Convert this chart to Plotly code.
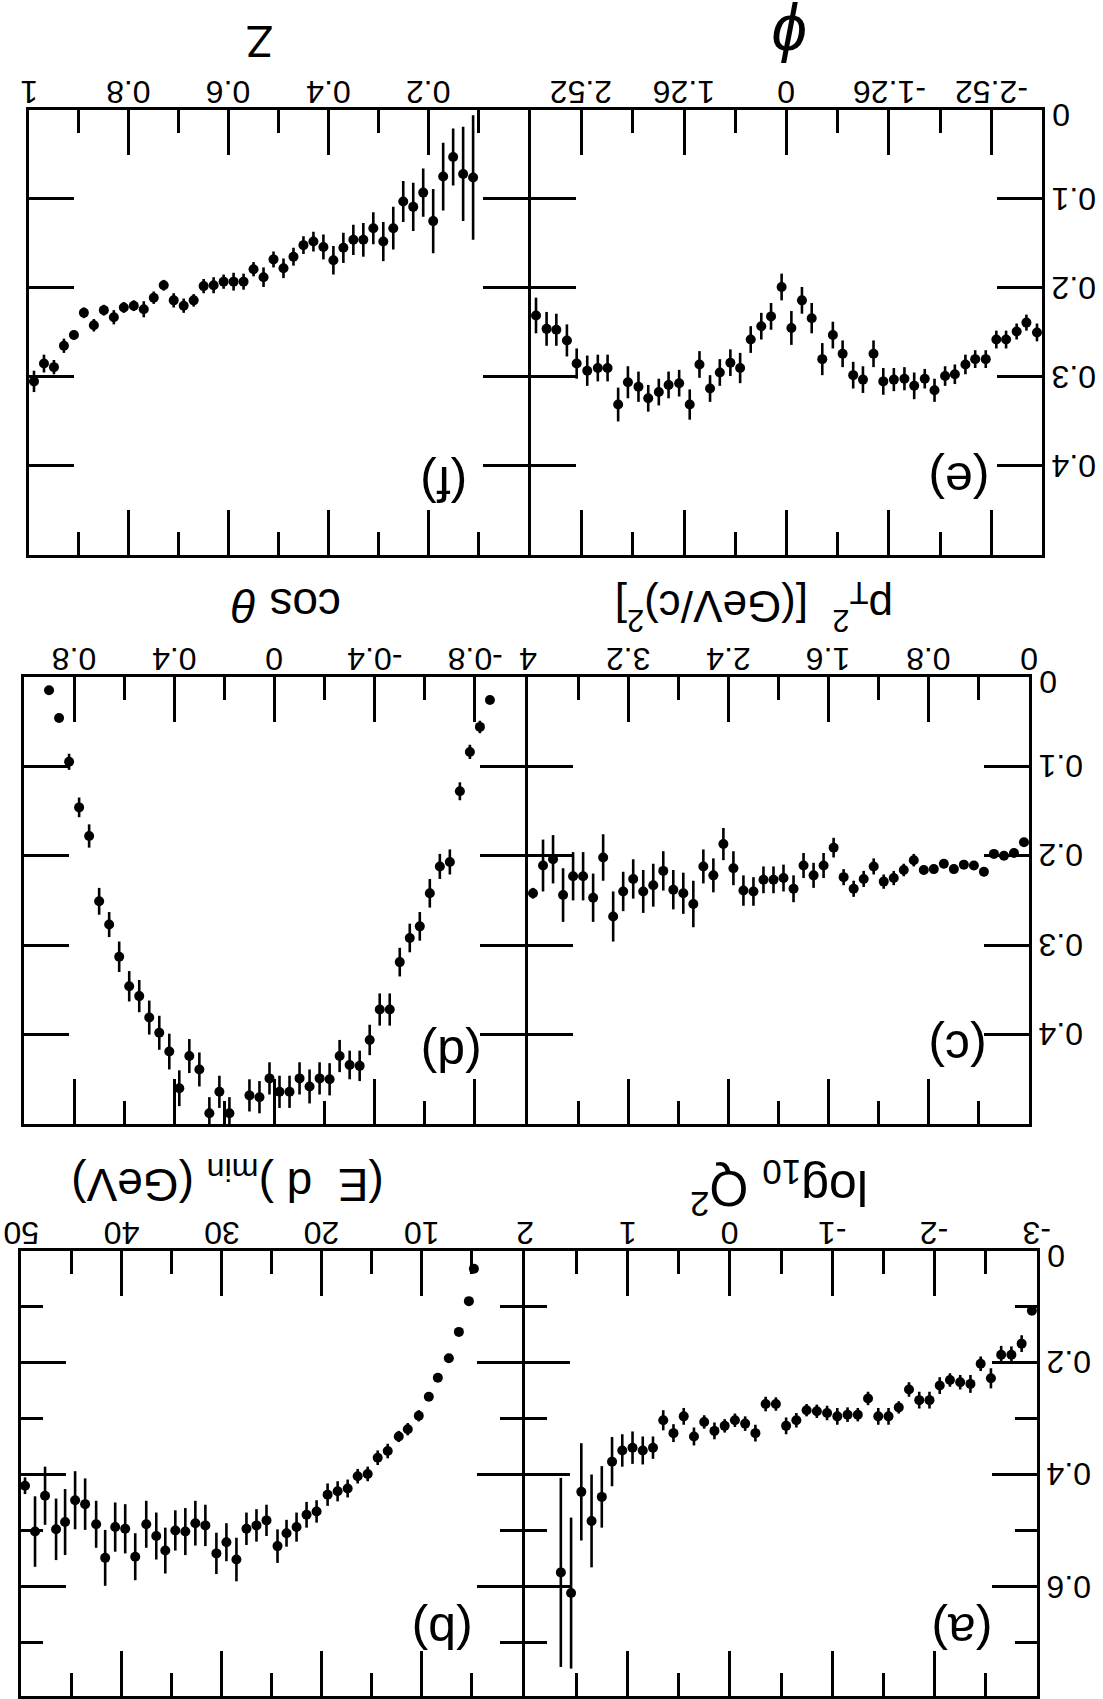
import math
import plotly.graph_objects as go

W, H = 1103, 1699

# ---------------- data ----------------
# (f) versus z
z_vals = [0.11, 0.13, 0.15, 0.17, 0.19, 0.21, 0.23, 0.25, 0.27, 0.29, 0.31, 0.33, 0.35, 0.37, 0.39,
          0.41, 0.43, 0.45, 0.47, 0.49, 0.51, 0.53, 0.55, 0.57, 0.59, 0.61, 0.63, 0.65, 0.67, 0.69,
          0.71, 0.73, 0.75, 0.77, 0.79, 0.81, 0.83, 0.85, 0.87, 0.89, 0.91, 0.93, 0.95, 0.97, 0.99]
z_y = [0.076, 0.072, 0.053, 0.075, 0.125, 0.093, 0.109, 0.103, 0.133, 0.148, 0.133, 0.146, 0.146, 0.155, 0.169,
       0.154, 0.148, 0.152, 0.165, 0.178, 0.168, 0.188, 0.179, 0.193, 0.193, 0.193, 0.197, 0.198, 0.214, 0.220,
       0.214, 0.197, 0.211, 0.224, 0.220, 0.222, 0.233, 0.225, 0.242, 0.228, 0.253, 0.265, 0.289, 0.285, 0.305]
z_err = [0.070, 0.053, 0.032, 0.038, 0.036, 0.027, 0.027, 0.023, 0.024, 0.022, 0.018, 0.019, 0.017, 0.017, 0.016,
         0.014, 0.011, 0.010, 0.010, 0.011, 0.009, 0.011, 0.008, 0.009, 0.010, 0.008, 0.009, 0.008, 0.007, 0.008,
         0.008, 0.006, 0.007, 0.009, 0.006, 0.006, 0.008, 0.006, 0.007, 0.006, 0.005, 0.008, 0.008, 0.010, 0.012]
z_tickvals = [1, 0.8, 0.6, 0.4, 0.2]
z_ticktext = ["1", "0.8", "0.6", "0.4", "0.2"]

# (e) versus azimuthal angle phi
phi_vals = [3.08, 2.95, 2.83, 2.70, 2.58, 2.45, 2.32, 2.20, 2.07, 1.95, 1.82, 1.70, 1.57, 1.45, 1.32,
            1.19, 1.07, 0.94, 0.82, 0.69, 0.57, 0.44, 0.31, 0.19, 0.06, -0.06, -0.19, -0.31, -0.44, -0.57,
            -0.69, -0.82, -0.94, -1.07, -1.19, -1.32, -1.45, -1.57, -1.70, -1.82, -1.95, -2.07, -2.20, -2.32,
            -2.45, -2.58, -2.70, -2.83, -2.95, -3.08]
phi_y = [0.231, 0.246, 0.247, 0.259, 0.285, 0.293, 0.290, 0.290, 0.331, 0.306, 0.311, 0.324, 0.317, 0.309, 0.307,
         0.331, 0.286, 0.313, 0.295, 0.284, 0.290, 0.258, 0.243, 0.232, 0.199, 0.245, 0.214, 0.234, 0.280, 0.253,
         0.274, 0.298, 0.303, 0.274, 0.305, 0.303, 0.302, 0.310, 0.302, 0.315, 0.299, 0.297, 0.286, 0.280,
         0.280, 0.258, 0.258, 0.249, 0.239, 0.250]
phi_err = [0.020, 0.019, 0.018, 0.018, 0.017, 0.017, 0.015, 0.015, 0.019, 0.018, 0.017, 0.015, 0.015, 0.015, 0.015,
           0.017, 0.015, 0.015, 0.015, 0.015, 0.017, 0.015, 0.015, 0.015, 0.015, 0.019, 0.015, 0.017, 0.018, 0.015,
           0.015, 0.015, 0.015, 0.015, 0.015, 0.013, 0.013, 0.015, 0.011, 0.013, 0.011, 0.011, 0.011, 0.010,
           0.010, 0.010, 0.010, 0.009, 0.009, 0.010]
phi_tickvals = [2.52, 1.26, 0, -1.26, -2.52]
phi_ticktext = ["2.52", "1.26", "0", "-1.26", "-2.52"]

# (d) versus cos(theta)
cos_vals = [0.90, 0.86, 0.82, 0.78, 0.74, 0.70, 0.66, 0.62, 0.58, 0.54, 0.50, 0.46, 0.42, 0.38, 0.34,
            0.30, 0.26, 0.22, 0.18, 0.10, 0.06, 0.02, -0.02, -0.06, -0.10, -0.14, -0.18, -0.22, -0.26, -0.30,
            -0.34, -0.38, -0.42, -0.46, -0.50, -0.54, -0.58, -0.62, -0.66, -0.70, -0.74, -0.78, -0.82, -0.86]
cos_y = [0.015, 0.046, 0.095, 0.146, 0.178, 0.251, 0.277, 0.313, 0.346, 0.357, 0.381, 0.398, 0.419, 0.460, 0.424,
         0.439, 0.488, 0.464, 0.488, 0.468, 0.470, 0.449, 0.464, 0.464, 0.449, 0.458, 0.449, 0.450, 0.424, 0.434,
         0.435, 0.406, 0.372, 0.372, 0.319, 0.292, 0.279, 0.242, 0.212, 0.207, 0.128, 0.084, 0.056, 0.026]
cos_err = [0.002, 0.004, 0.009, 0.011, 0.013, 0.015, 0.014, 0.017, 0.017, 0.018, 0.019, 0.019, 0.020, 0.020, 0.019,
           0.019, 0.018, 0.018, 0.018, 0.018, 0.018, 0.018, 0.018, 0.018, 0.018, 0.019, 0.018, 0.018, 0.018, 0.016,
           0.017, 0.017, 0.018, 0.018, 0.016, 0.016, 0.016, 0.016, 0.014, 0.014, 0.010, 0.008, 0.007, 0.004]
cos_tickvals = [0.8, 0.4, 0, -0.4, -0.8]
cos_ticktext = ["0.8", "0.4", "0", "-0.4", "-0.8"]

# (c) versus transverse momentum squared
pt2_vals = [0.04, 0.12, 0.20, 0.28, 0.36, 0.44, 0.52, 0.60, 0.68, 0.76, 0.84, 0.92, 1.00, 1.08, 1.16,
            1.24, 1.32, 1.40, 1.48, 1.56, 1.64, 1.72, 1.80, 1.88, 1.96, 2.04, 2.12, 2.20, 2.28, 2.36,
            2.44, 2.52, 2.60, 2.68, 2.76, 2.84, 2.92, 3.00, 3.08, 3.16, 3.24, 3.32, 3.40, 3.48, 3.56,
            3.64, 3.72, 3.80, 3.88, 3.96]
pt2_y = [0.185, 0.197, 0.200, 0.198, 0.218, 0.211, 0.210, 0.215, 0.209, 0.215,
         0.216, 0.205, 0.216, 0.225, 0.229, 0.212, 0.226, 0.237, 0.224, 0.191,
         0.211, 0.222, 0.211, 0.237, 0.225, 0.227, 0.227, 0.240, 0.239, 0.214,
         0.187, 0.222, 0.212, 0.254, 0.242, 0.238, 0.217, 0.233, 0.240, 0.226,
         0.240, 0.268, 0.202, 0.247, 0.223, 0.223, 0.244, 0.204, 0.211, 0.242]
pt2_err = [0.003, 0.003, 0.004, 0.003, 0.005, 0.005, 0.005, 0.005, 0.005, 0.005,
           0.005, 0.007, 0.007, 0.008, 0.008, 0.009, 0.009, 0.009, 0.009, 0.011,
           0.014, 0.014, 0.014, 0.015, 0.015, 0.015, 0.015, 0.016, 0.017, 0.019,
           0.018, 0.019, 0.019, 0.026, 0.023, 0.022, 0.022, 0.024, 0.024, 0.022,
           0.022, 0.028, 0.026, 0.027, 0.027, 0.027, 0.030, 0.027, 0.029, 0.006]
pt2_tickvals = [4, 3.2, 2.4, 1.6, 0.8, 0]
pt2_ticktext = ["4", "3.2", "2.4", "1.6", "0.8", "0"]

# (b) versus minimum energy
e_vals = [4.8, 5.3, 6.3, 7.3, 8.4, 9.3,
          10.3, 11.4, 12.3, 13.4, 14.4, 15.4, 16.4, 17.4, 18.4, 19.4,
          20.5, 21.5, 22.5, 23.5, 24.4, 25.5, 26.5, 27.5, 28.5, 29.5,
          30.5, 31.6, 32.6, 33.6, 34.6, 35.6, 36.5, 37.5, 38.6, 39.6,
          40.6, 41.6, 42.5, 43.6, 44.6, 45.6, 46.5, 47.6, 48.6, 49.6]
e_y = [0.032, 0.090, 0.145, 0.192, 0.227, 0.261,
       0.295, 0.319, 0.332, 0.358, 0.370, 0.399, 0.403, 0.425, 0.430, 0.436,
       0.466, 0.472, 0.494, 0.505, 0.528, 0.482, 0.491, 0.497, 0.552, 0.521,
       0.541, 0.491, 0.487, 0.502, 0.500, 0.536, 0.510, 0.489, 0.547, 0.497,
       0.494, 0.549, 0.489, 0.453, 0.446, 0.485, 0.498, 0.438, 0.502, 0.420]
e_err = [0.004, 0.004, 0.004, 0.005, 0.005, 0.006,
         0.010, 0.011, 0.010, 0.013, 0.013, 0.013, 0.013, 0.016, 0.018, 0.020,
         0.020, 0.023, 0.026, 0.024, 0.030, 0.028, 0.029, 0.029, 0.039, 0.034,
         0.037, 0.037, 0.040, 0.042, 0.036, 0.041, 0.042, 0.042, 0.042, 0.044,
         0.044, 0.050, 0.042, 0.046, 0.052, 0.059, 0.055, 0.052, 0.063, 0.015]
e_tickvals = [50, 40, 30, 20, 10]
e_ticktext = ["50", "40", "30", "20", "10"]

# (a) versus log10 Q^2
q2_vals = [-2.95, -2.85, -2.75, -2.65, -2.55, -2.45, -2.35, -2.25, -2.15, -2.05,
           -1.95, -1.85, -1.75, -1.65, -1.55, -1.45, -1.35, -1.25, -1.15, -1.05,
           -0.95, -0.85, -0.75, -0.65, -0.55, -0.45, -0.35, -0.25, -0.15, -0.05,
           0.05, 0.15, 0.25, 0.35, 0.45, 0.55, 0.65, 0.75, 0.85, 0.95,
           1.05, 1.15, 1.25, 1.35, 1.45, 1.55, 1.65]
q2_y = [0.107, 0.166, 0.186, 0.186, 0.228, 0.202, 0.238, 0.235, 0.231, 0.241,
        0.267, 0.267, 0.248, 0.280, 0.296, 0.296, 0.264, 0.293, 0.293, 0.296,
        0.290, 0.287, 0.285, 0.303, 0.313, 0.274, 0.274, 0.326, 0.309, 0.303,
        0.313, 0.322, 0.306, 0.332, 0.296, 0.326, 0.303, 0.352, 0.357, 0.352,
        0.357, 0.377, 0.440, 0.483, 0.431, 0.612, 0.575]
q2_err = [0.005, 0.015, 0.015, 0.016, 0.018, 0.013, 0.016, 0.013, 0.012, 0.015,
          0.015, 0.015, 0.013, 0.011, 0.015, 0.015, 0.012, 0.012, 0.013, 0.015,
          0.013, 0.012, 0.011, 0.013, 0.015, 0.012, 0.013, 0.015, 0.013, 0.012,
          0.012, 0.015, 0.012, 0.016, 0.015, 0.016, 0.018, 0.020, 0.025, 0.029,
          0.029, 0.044, 0.055, 0.083, 0.087, 0.135, 0.169]
q2_tickvals = [2, 1, 0, -1, -2, -3]
q2_ticktext = ["2", "1", "0", "-1", "-2", "-3"]

# shared vertical scale labels (right-hand column)
y_tickvals_short = [0, 0.1, 0.2, 0.3, 0.4]
y_ticktext_short = ["0", "0.1", "0.2", "0.3", "0.4"]
y_tickvals_long = [0, 0.2, 0.4, 0.6]
y_ticktext_long = ["0", "0.2", "0.4", "0.6"]

# ---------------- layout of the six panels (pixel boxes: left, right, top, bottom) ----------------
FONT = "Liberation Sans, Arial, Helvetica, sans-serif"
INK = "black"
LW = 3  # frame line width; neighbouring frames are offset by it so shared edges coincide

panels = [
    dict(x=z_vals, y=z_y, err=z_err, box=(29, 528, 110, 556), xr=[1, 0], yr=[0.5, 0],
         xdt=0.2, xmdt=0.1, ydt=0.1, ymdt=None, xt=(z_tickvals, z_ticktext), yt=None,
         title="Z", tsize=44, tpos=(0.462, 69), tag="(f)", tagpos=(0.832, 0.159)),
    dict(x=phi_vals, y=phi_y, err=phi_err, box=(528 + LW, 1042, 110, 556), xr=[math.pi, -math.pi], yr=[0.5, 0],
         xdt=1.26, xmdt=0.63, ydt=0.1, ymdt=None, xt=(phi_tickvals, phi_ticktext),
         yt=(y_tickvals_short, y_ticktext_short),
         title="<i>ϕ</i>", tsize=64, tpos=(0.505, 72), tag="(e)", tagpos=(0.838, 0.168)),
    dict(x=cos_vals, y=cos_y, err=cos_err, box=(24, 525, 678, 1126), xr=[1, -1], yr=[0.5, 0],
         xdt=0.4, xmdt=0.2, ydt=0.1, ymdt=None, xt=(cos_tickvals, cos_ticktext), yt=None,
         title="cos <i>θ</i>", tsize=46, tpos=(0.524, 72), tag="(d)", tagpos=(0.853, 0.156)),
    dict(x=pt2_vals, y=pt2_y, err=pt2_err, box=(525 + LW, 1029, 678, 1126), xr=[4, 0], yr=[0.5, 0],
         xdt=0.8, xmdt=0.4, ydt=0.1, ymdt=None, xt=(pt2_tickvals, pt2_ticktext),
         yt=(y_tickvals_short, y_ticktext_short),
         title="p<sub>T</sub><sup>2</sup>  [(GeV/c)<sup>2</sup>]", tsize=44, tpos=(0.451, 71),
         tag="(c)", tagpos=(0.857, 0.170)),
    dict(x=e_vals, y=e_y, err=e_err, box=(21, 522, 1253, 1699), xr=[50, 0], yr=[0.796, 0],
         xdt=10, xmdt=5, ydt=0.2, ymdt=0.1, xt=(e_tickvals, e_ticktext), yt=None,
         title="(E  d )<sub>min</sub> (GeV)", tsize=46, tpos=(0.412, 70), tag="(b)", tagpos=(0.841, 0.146)),
    dict(x=q2_vals, y=q2_y, err=q2_err, box=(522 + LW, 1037, 1253, 1699), xr=[2, -3], yr=[0.796, 0],
         xdt=1, xmdt=0.5, ydt=0.2, ymdt=0.1, xt=(q2_tickvals, q2_ticktext),
         yt=(y_tickvals_long, y_ticktext_long),
         title="log<sub>10</sub> Q<sup>2</sup>", tsize=50, tpos=(0.496, 63), tag="(a)", tagpos=(0.854, 0.146)),
]

fig = go.Figure()


def upside_down(text, size, **kw):
    fig.add_annotation(text=text, showarrow=False, textangle=180,
                       font=dict(family=FONT, size=size, color=INK), **kw)


for i, p in enumerate(panels, start=1):
    sfx = "" if i == 1 else str(i)
    xa, ya = "x" + sfx, "y" + sfx
    left, right, top, bottom = p["box"]

    fig.add_trace(go.Scatter(
        x=p["x"], y=p["y"], mode="markers", xaxis=xa, yaxis=ya,
        marker=dict(color=INK, size=10, line=dict(width=0)),
        error_y=dict(type="data", array=p["err"], color=INK, thickness=2.6, width=0),
        cliponaxis=True, showlegend=False, hoverinfo="skip"))

    common = dict(showline=True, linewidth=LW, linecolor=INK, mirror="allticks",
                  ticks="inside", ticklen=45, tickwidth=3, tickcolor=INK,
                  showticklabels=False, showgrid=False, zeroline=False, tick0=0)

    xminor = dict(ticks="inside", ticklen=23, tickwidth=3, tickcolor=INK,
                  dtick=p["xmdt"], tick0=0, showgrid=False)
    fig.layout["xaxis" + sfx] = dict(common, domain=[left / W, right / W], anchor=ya,
                                     range=p["xr"], side="top", dtick=p["xdt"], minor=xminor)

    yaxis = dict(common, domain=[1 - bottom / H, 1 - top / H], anchor=xa,
                 range=p["yr"], dtick=p["ydt"])
    if p["ymdt"]:
        yaxis["minor"] = dict(ticks="inside", ticklen=22, tickwidth=3, tickcolor=INK,
                              dtick=p["ymdt"], tick0=0, showgrid=False)
    fig.layout["yaxis" + sfx] = yaxis

    # tick labels along the top edge
    for v, t in zip(*p["xt"]):
        upside_down(t, 32, x=v, xref=xa, y=1, yref=ya + " domain", yshift=18,
                    xanchor="center", yanchor="middle")
    # tick labels along the right edge (the corner zero sits a little lower)
    if p["yt"]:
        for v, t in zip(*p["yt"]):
            upside_down(t, 32, x=1, xref=xa + " domain", xshift=8, xanchor="left",
                        y=v, yref=ya, yanchor="middle", yshift=-5 if v == 0 else 0)

    # axis title and panel tag
    tx, tshift = p["tpos"]
    upside_down(p["title"], p["tsize"], x=tx, xref=xa + " domain", y=1, yref=ya + " domain",
                yshift=tshift, xanchor="center", yanchor="middle")
    gx, gy = p["tagpos"]
    upside_down(p["tag"], 50, x=gx, xref=xa + " domain", y=gy, yref=ya + " domain",
                xanchor="center", yanchor="middle")

fig.update_layout(width=W, height=H, margin=dict(l=0, r=0, t=0, b=0),
                  paper_bgcolor="white", plot_bgcolor="white", showlegend=False)

fig.write_html("out.html")
